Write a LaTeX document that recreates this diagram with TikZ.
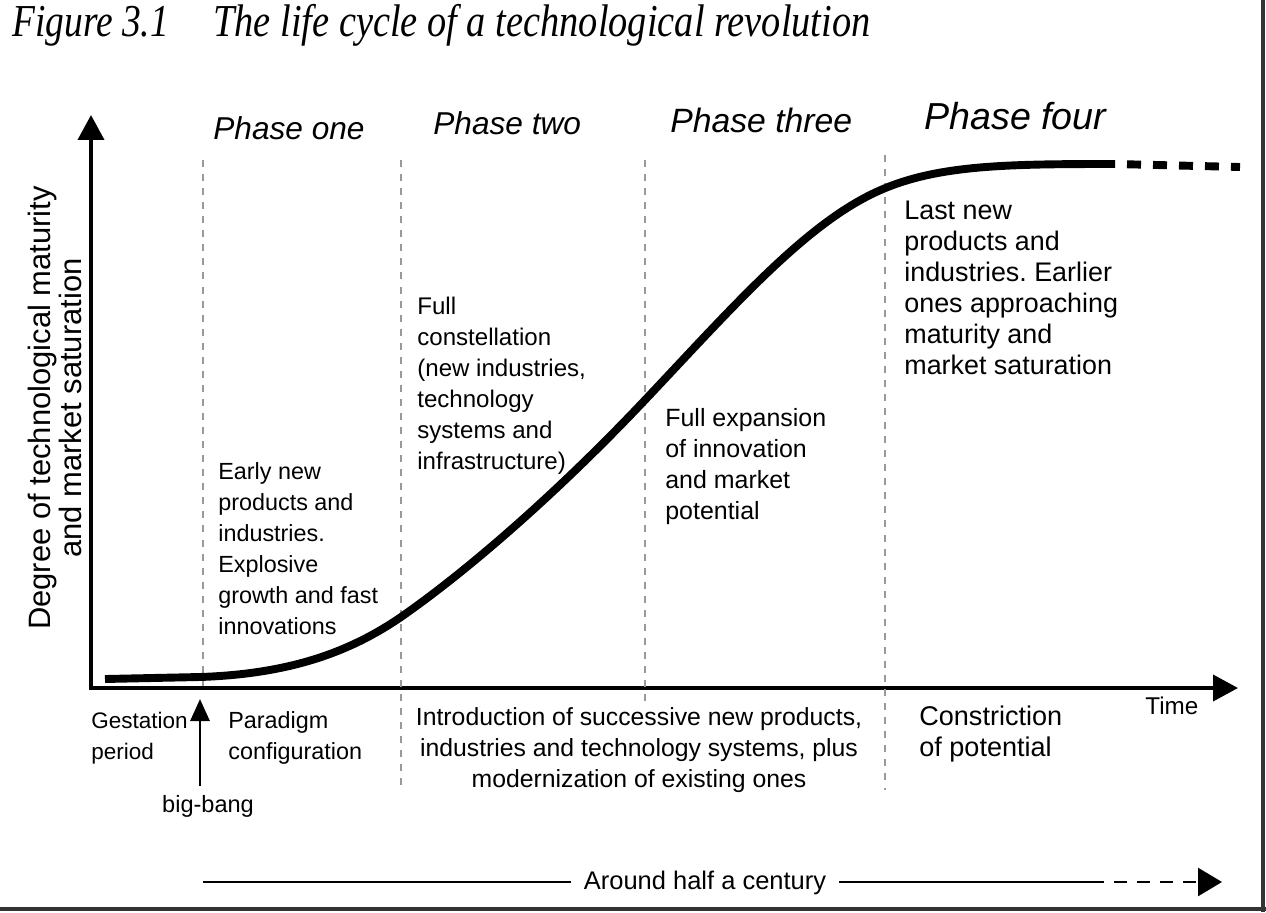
\documentclass[tikz,border=0pt]{standalone}
\usepackage{fontspec}
\setmainfont{Liberation Serif}
\setsansfont{Liberation Sans}
\usepackage{graphicx}
\usetikzlibrary{arrows.meta, positioning}
\frenchspacing

\begin{document}
\begin{tikzpicture}[
  x=0.02cm, y=-0.02cm,
  txt/.style={font=\sffamily\fontsize{#1}{17.6}\selectfont, align=left, inner sep=0pt, anchor=base west},
  txt/.default=12.8,
  phase/.style={font=\sffamily\itshape\fontsize{#1}{#1}\selectfont, inner sep=0pt, anchor=base west},
  heading/.style={font=\fontsize{26}{28}\selectfont\itshape, inner sep=0pt, anchor=base west},
  guide/.style={gray!80, line width=0.8pt, dash pattern=on 4pt off 4pt},
  axis/.style={{Triangle[length=0.5cm, width=0.52cm]}-{Triangle[length=0.5cm, width=0.52cm]}, line width=2.2pt, line join=miter},
  arr/.style={-{Triangle[length=0.44cm, width=0.38cm]}, line width=1.7pt},
  ]
  \useasboundingbox (0,0) rectangle (1266,912);

  % title
  \node[heading] (fig) at (12,37) {\scalebox{0.82}[1]{Figure 3.1}};
  \node[heading] (title) at (213,37) {\scalebox{0.84}[1]{The life cycle of a technological revolution}};

  % axes
  \coordinate (o) at (91,688);
  \coordinate (ytip) at (91,115);
  \coordinate (xtip) at (1238,688);
  \draw[axis] (ytip) -- (o) -- (xtip);
  \node[font=\sffamily\fontsize{17.6}{15.9}\selectfont, align=center, rotate=90, inner sep=0pt] (ylab) at (55,408)
    {Degree of technological maturity\\and market saturation};

  % phase borders
  \draw[guide] (203,160) -- (203,686);
  \draw[guide] (401,160) -- (401,790);
  \draw[guide] (645,160) -- (645,705);
  \draw[guide] (885,155) -- (885,790);

  % phase headings
  \node[phase=18] (p1) at (213,140) {Phase one};
  \node[phase=18] (p2) at (433,135) {Phase two};
  \node[phase=19.2] (p3) at (670,133) {Phase three};
  \node[phase=21.4] (p4) at (924,130) {Phase four};

  % S-curve
  \draw[line width=4.5pt] (105,679) -- (200,677)
    .. controls (290,674) and (350,652) .. (401,617)
    .. controls (470,569) and (560,490) .. (645,400)
    .. controls (730,310) and (800,230) .. (870,195)
    .. controls (930,165) and (1000,164) .. (1115,164);
  \draw[line width=4.5pt, dash pattern=on 0.28cm off 0.24cm, dash phase=0.28cm] (1115,164) -- (1240,167);

  % texts inside the phases
  \node[txt=13.3] (early) at (218,634) {Early new\\products and\\industries.\\Explosive\\growth and fast\\innovations};
  \node[txt=13.7] (full) at (417,469) {Full\\constellation\\(new industries,\\technology\\systems and\\infrastructure)};
  \node[txt=14.2] (expand) at (665,519) {Full expansion\\of innovation\\and market\\potential};
  \node[txt=15.3] (last) at (904,374) {Last new\\products and\\industries. Earlier\\ones approaching\\maturity and\\market saturation};

  % texts below the axis
  \node[txt] (gest) at (91,759) {Gestation\\period};
  \node[txt=13.3] (para) at (228,759) {Paradigm\\configuration};
  \node[txt=14.1, align=center, anchor=base] (intro) at (639,787) {Introduction of successive new products,\\industries and technology systems, plus\\modernization of existing ones};
  \node[txt=15.4] (constr) at (919,756) {Constriction\\of potential};
  \node[txt=13.8] (time) at (1145,714) {Time};
  \node[txt=13.4, anchor=base] (bang) at (208,812) {big-bang};

  % big-bang
  \coordinate (bbtip) at (200,699);
  \draw[arr] (bbtip |- bang.north) ++(0,-9) -- (bbtip);

  % around half a century
  \coordinate (hstart) at (203,882);
  \coordinate (hdash) at (1104,882);
  \coordinate (hend) at (1222,882);
  \node[txt=14.5, anchor=base, inner xsep=0.26cm] (span) at (705,889) {Around half a century};
  \draw[line width=1.5pt] (hstart) -- (hstart -| span.west);
  \draw[line width=1.5pt] (span.east |- hend) -- (hdash);
  \draw[line width=1.5pt, dash pattern=on 0.26cm off 0.2cm, dash phase=0.26cm, -{Triangle[length=0.48cm, width=0.56cm]}] (hdash) -- (hend);

  % scan edges
  \draw[line width=2pt, black!80] (1263,0) -- (1263,912);
  \draw[line width=2pt, black!80] (0,909) -- (1266,909);
\end{tikzpicture}
\end{document}
